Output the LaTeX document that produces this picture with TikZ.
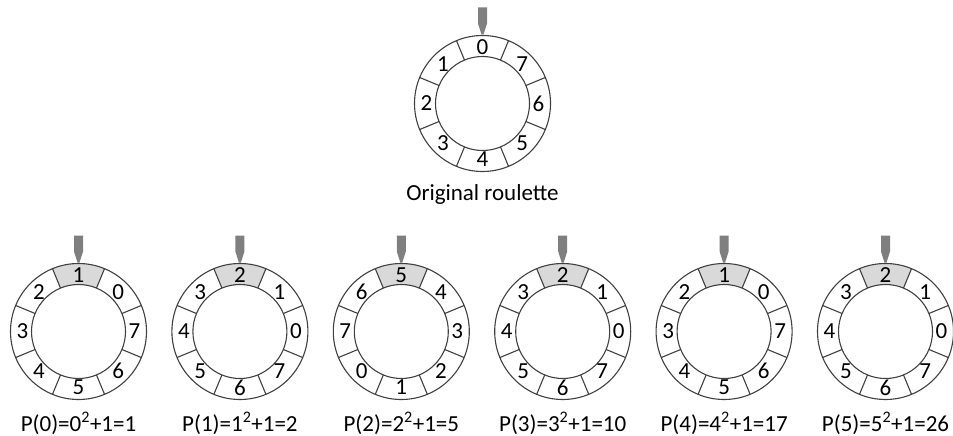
\documentclass[tikz,border=0pt]{standalone}
\usepackage{fontspec}
\setmainfont{Carlito}
\definecolor{ringgray}{HTML}{404040}
\definecolor{pingray}{HTML}{7F7F7F}
\definecolor{hilite}{HTML}{D9D9D9}
\begin{document}
\begin{tikzpicture}[x=1pt, y=-1pt,
    ring/.style={draw=ringgray, line width=1.1pt},
    digit/.style={inner sep=0pt, font=\fontsize{23}{25}\selectfont},
    caption/.style={inner sep=0pt, anchor=base, font=\fontsize{23}{26}\selectfont}]
\useasboundingbox (0,0) rectangle (953,436);

\foreach \cx/\cy/\topval/\nm/\hl/\by/\txt in {
    482.5/103.5/0/o/white/200/{Original roulette},
    78.5/331.5/1/p0/hilite/431.7/{P(0)=0\textsuperscript{2}+1=1},
    239.9/331.5/2/p1/hilite/431.7/{P(1)=1\textsuperscript{2}+1=2},
    401.3/331.5/5/p2/hilite/431.7/{P(2)=2\textsuperscript{2}+1=5},
    562.7/331.5/2/p3/hilite/431.7/{P(3)=3\textsuperscript{2}+1=10},
    724.1/331.5/1/p4/hilite/431.7/{P(4)=4\textsuperscript{2}+1=17},
    885.5/331.5/2/p5/hilite/431.7/{P(5)=5\textsuperscript{2}+1=26}}{
  % sector under the pointer
  \fill[\hl] ([shift={(\cx,\cy)}]-112.5:68) arc[start angle=-112.5, end angle=-67.5, radius=68]
        -- ([shift={(\cx,\cy)}]-67.5:47) arc[start angle=-67.5, end angle=-112.5, radius=47] -- cycle;
  \draw[ring] (\cx,\cy) circle[radius=68];
  \draw[ring] (\cx,\cy) circle[radius=47];
  \foreach \k in {0,...,7}{
    \draw[ring] ([shift={(\cx,\cy)}]{-112.5+45*\k}:47) -- ([shift={(\cx,\cy)}]{-112.5+45*\k}:68);
    \pgfmathtruncatemacro\val{mod(\topval-\k+8,8)}
    \node[digit] (\nm-\k) at ([shift={(\cx,\cy)}]{-90+45*\k}:56) {\val};
  }
  % pointer
  \fill[pingray] (\cx-4.5,\cy-96) -- (\cx+4.5,\cy-96) -- (\cx+4.5,\cy-80)
        -- (\cx+1,\cy-69) -- (\cx-1,\cy-69) -- (\cx-4.5,\cy-80) -- cycle;
  \node[caption] (cap-\nm) at (\cx,\by) {\txt};
}
\end{tikzpicture}
\end{document}
